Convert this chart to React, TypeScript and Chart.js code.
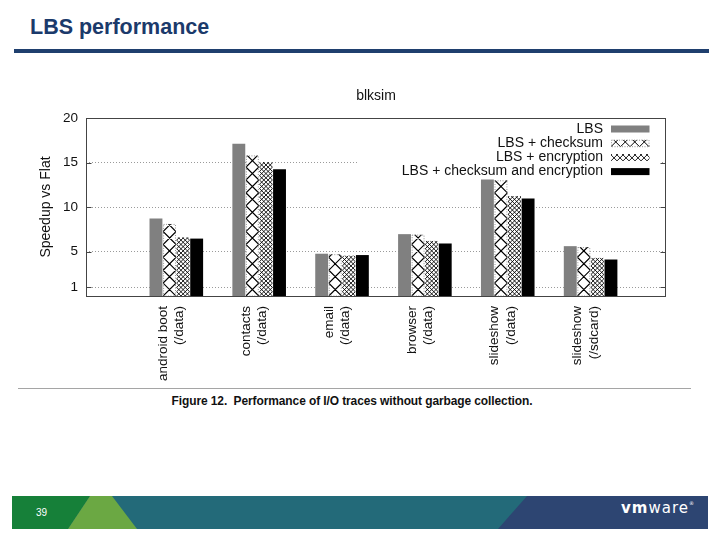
import React, { useEffect, useRef } from "react";
import { Chart, registerables } from "chart.js";

Chart.register(...registerables);

// ---- data ----
const categories: string[][] = [
  ["android boot", "(/data)"],
  ["contacts", "(/data)"],
  ["email", "(/data)"],
  ["browser", "(/data)"],
  ["slideshow", "(/data)"],
  ["slideshow", "(/sdcard)"],
];
const seriesNames = [
  "LBS",
  "LBS + checksum",
  "LBS + encryption",
  "LBS + checksum and encryption",
];
const lbs = [8.7, 17.1, 4.75, 6.95, 13.1, 5.6];
const lbsChecksum = [8.1, 15.8, 4.7, 6.9, 13.0, 5.5];
const lbsEncryption = [6.6, 15.05, 4.55, 6.2, 11.25, 4.3];
const lbsBoth = [6.45, 14.25, 4.6, 5.9, 10.95, 4.1];
const yTicks = [1, 5, 10, 15, 20];
const chartTitle = "blksim";
const yTitle = "Speedup vs Flat";
const slideTitle = "LBS performance";
const caption = "Figure 12.  Performance of I/O traces without garbage collection.";
const pageNumber = "39";

const FONT = "'Liberation Sans', Arial, Helvetica, sans-serif";
const GRAY = "#808080";

function drawHatch(
  ctx: CanvasRenderingContext2D,
  left: number,
  top: number,
  w: number,
  h: number,
  p: number,
  lw: number
) {
  if (h <= 0 || w <= 0) return;
  ctx.save();
  ctx.beginPath();
  ctx.rect(left, top, w, h);
  ctx.clip();
  ctx.strokeStyle = "#000";
  ctx.lineWidth = lw;
  const bottom = top + h;
  const n = Math.ceil((w + h) / p) + 1;
  ctx.beginPath();
  for (let k = -n; k <= n; k++) {
    const x0 = left + k * p;
    ctx.moveTo(x0, bottom);
    ctx.lineTo(x0 + h, bottom - h);
    ctx.moveTo(x0, bottom);
    ctx.lineTo(x0 - h, bottom - h);
  }
  ctx.stroke();
  ctx.restore();
}

function dottedOutline(ctx: CanvasRenderingContext2D, l: number, t: number, w: number, h: number) {
  ctx.save();
  ctx.strokeStyle = "#777";
  ctx.lineWidth = 0.8;
  ctx.setLineDash([1, 1.5]);
  ctx.strokeRect(l + 0.5, t + 0.5, w - 1, h - 0.5);
  ctx.restore();
}

const decorPlugin = {
  id: "decor",
  afterDatasetsDraw(chart: any) {
    const ctx: CanvasRenderingContext2D = chart.ctx;
    const ca = chart.chartArea;
    // hatch patterns on bars
    [1, 2].forEach((di) => {
      const meta = chart.getDatasetMeta(di);
      meta.data.forEach((el: any) => {
        const { x, y, base, width } = el.getProps(["x", "y", "base", "width"], true);
        const left = x - width / 2;
        const p = di === 1 ? width : width / 3;
        drawHatch(ctx, left, y, width, base - y, p, di === 1 ? 1.2 : 0.9);
        if (di === 1) dottedOutline(ctx, left, y, width, base - y);
      });
    });

    // legend (opaque box)
    ctx.save();
    ctx.fillStyle = "#fff";
    const boxLeft = ca.right - 308;
    ctx.fillRect(boxLeft, ca.top + 1, ca.right - 4 - boxLeft, 59);
    ctx.font = `14px ${FONT}`;
    ctx.textAlign = "right";
    ctx.textBaseline = "middle";
    const textRight = ca.right - 63;
    const sx = ca.right - 55;
    const sw = 38.5;
    const sh = 7;
    seriesNames.forEach((name, i) => {
      const cy = ca.top + 11 + i * 14.2;
      ctx.fillStyle = "#111";
      ctx.fillText(name, textRight, cy);
      const st = cy - sh / 2;
      if (i === 0) {
        ctx.fillStyle = GRAY;
        ctx.fillRect(sx, st, sw, sh);
      } else if (i === 3) {
        ctx.fillStyle = "#000";
        ctx.fillRect(sx, st, sw, sh);
      } else if (i === 1) {
        drawHatch(ctx, sx, st, sw, sh, 9.5, 1);
        dottedOutline(ctx, sx, st, sw, sh);
      } else {
        drawHatch(ctx, sx, st, sw, sh, 6, 0.9);
      }
    });
    ctx.restore();

    // frame + inward ticks
    ctx.save();
    ctx.strokeStyle = "#444";
    ctx.lineWidth = 1;
    const L = Math.round(ca.left) + 0.5;
    const R = Math.round(ca.right) - 0.5;
    const T = Math.round(ca.top) + 0.5;
    const B = Math.round(ca.bottom) + 0.5;
    ctx.strokeRect(L, T, R - L, B - T);
    const ys = chart.scales.y;
    ctx.beginPath();
    yTicks.forEach((v) => {
      const py = Math.round(ys.getPixelForValue(v)) + 0.5;
      ctx.moveTo(L, py);
      ctx.lineTo(L + 5, py);
      ctx.moveTo(R, py);
      ctx.lineTo(R - 5, py);
    });
    ctx.stroke();
    ctx.restore();
  },
};

function BarChart() {
  const ref = useRef<HTMLCanvasElement | null>(null);
  useEffect(() => {
    if (!ref.current) return;
    const toXY = (arr: number[]) => arr.map((v, i) => ({ x: i, y: v }));
    const chart = new Chart(ref.current, {
      type: "bar",
      data: {
        datasets: [
          { label: seriesNames[0], data: toXY(lbs), backgroundColor: GRAY, borderWidth: 0 },
          { label: seriesNames[1], data: toXY(lbsChecksum), backgroundColor: "#fff", borderWidth: 0 },
          { label: seriesNames[2], data: toXY(lbsEncryption), backgroundColor: "#fff", borderWidth: 0 },
          { label: seriesNames[3], data: toXY(lbsBoth), backgroundColor: "#000", borderWidth: 0 },
        ] as any,
      },
      options: {
        animation: false,
        responsive: true,
        maintainAspectRatio: false,
        datasets: { bar: { categoryPercentage: 0.655, barPercentage: 0.95 } },
        layout: { padding: { left: 0, right: 54, top: 0, bottom: 0 } },
        plugins: {
          legend: { display: false },
          tooltip: { enabled: false },
          title: {
            display: true,
            text: chartTitle,
            fullSize: false,
            color: "#111",
            font: { family: FONT, size: 14, weight: "normal" },
            padding: { top: 17.6, bottom: 13.6 },
          },
        },
        scales: {
          x: {
            type: "linear",
            offset: false,
            min: -1.09,
            max: 5.91,
            grid: { display: false, drawTicks: false },
            border: { display: false },
            afterBuildTicks: (axis: any) => {
              axis.ticks = categories.map((_, i) => ({ value: i }));
            },
            afterFit: (axis: any) => {
              axis.height = 92;
            },
            ticks: {
              autoSkip: false,
              minRotation: 90,
              maxRotation: 90,
              padding: 10,
              labelOffset: -13,
              color: "#111",
              font: { family: FONT, size: 13.5 },
              callback: (v: any) => categories[Math.round(Number(v))] ?? "",
            },
          },
          y: {
            min: 0,
            max: 20,
            afterBuildTicks: (axis: any) => {
              axis.ticks = yTicks.map((v) => ({ value: v }));
            },
            afterFit: (axis: any) => {
              axis.width = 86;
            },
            grid: {
              drawTicks: false,
              lineWidth: 1,
              color: (c: any) => (c.tick && c.tick.value === 20 ? "rgba(0,0,0,0)" : "#9a9a9a"),
            },
            border: { display: false, dash: [1, 2] },
            ticks: {
              padding: 8,
              color: "#111",
              font: { family: FONT, size: 13.5 },
            },
            title: {
              display: true,
              text: yTitle,
              color: "#111",
              font: { family: FONT, size: 14 },
              padding: { top: 38, bottom: 0 },
            },
          },
        },
      } as any,
      plugins: [decorPlugin],
    });
    return () => chart.destroy();
  }, []);
  return <canvas ref={ref} />;
}

function Banner() {
  return (
    <svg
      width={720}
      height={40}
      style={{ position: "absolute", left: 0, top: 492 }}
      viewBox="0 492 720 40"
    >
      <rect x={12} y={496} width={696} height={33} fill="#236a79" />
      <polygon points="12,496 90,496 68,529 12,529" fill="#168039" />
      <polygon points="90,496 112,496 137,529 68,529" fill="#6ba843" />
      <polygon points="527,496 708,496 708,529 498,529" fill="#2d4572" />
    </svg>
  );
}

export default function App() {
  return (
    <div
      style={{
        position: "absolute",
        left: 0,
        top: 0,
        width: 720,
        height: 540,
        background: "#fff",
        overflow: "hidden",
        fontFamily: FONT,
      }}
    >
      <div
        style={{
          position: "absolute",
          left: 30,
          top: 17,
          fontSize: 21.5,
          fontWeight: "bold",
          color: "#1b3a6b",
          lineHeight: 1,
          whiteSpace: "nowrap",
        }}
      >
        {slideTitle}
      </div>
      <div style={{ position: "absolute", left: 14, top: 48.5, width: 695, height: 4, background: "#1f3f6e" }} />
      <div style={{ position: "absolute", left: 0, top: 70, width: 720, height: 318 }}>
        <BarChart />
      </div>
      <div style={{ position: "absolute", left: 18, top: 387.5, width: 673, height: 1.5, background: "#a5a5a5" }} />
      <div
        style={{
          position: "absolute",
          left: 0,
          width: 704,
          top: 394,
          textAlign: "center",
          fontFamily: FONT,
          fontWeight: "bold",
          fontSize: 13,
          lineHeight: 1,
          color: "#111",
          whiteSpace: "pre",
          transform: "scaleX(0.92)",
          transformOrigin: "352px 0",
          letterSpacing: -0.1,
        }}
      >
        {caption}
      </div>
      <Banner />
      <div
        style={{
          position: "absolute",
          left: 36,
          top: 508,
          fontSize: 10,
          lineHeight: 1,
          color: "#fff",
          fontFamily: FONT,
        }}
      >
        {pageNumber}
      </div>
      <div
        style={{
          position: "absolute",
          left: 621,
          top: 501,
          fontSize: 15,
          lineHeight: 1,
          color: "#fff",
          fontFamily: "'DejaVu Sans', sans-serif",
          letterSpacing: 1,
          whiteSpace: "nowrap",
        }}
      >
        <span style={{ fontWeight: "bold" }}>vm</span>
        <span>ware</span>
        <span style={{ fontSize: 5, verticalAlign: "top", letterSpacing: 0 }}>®</span>
      </div>
    </div>
  );
}
